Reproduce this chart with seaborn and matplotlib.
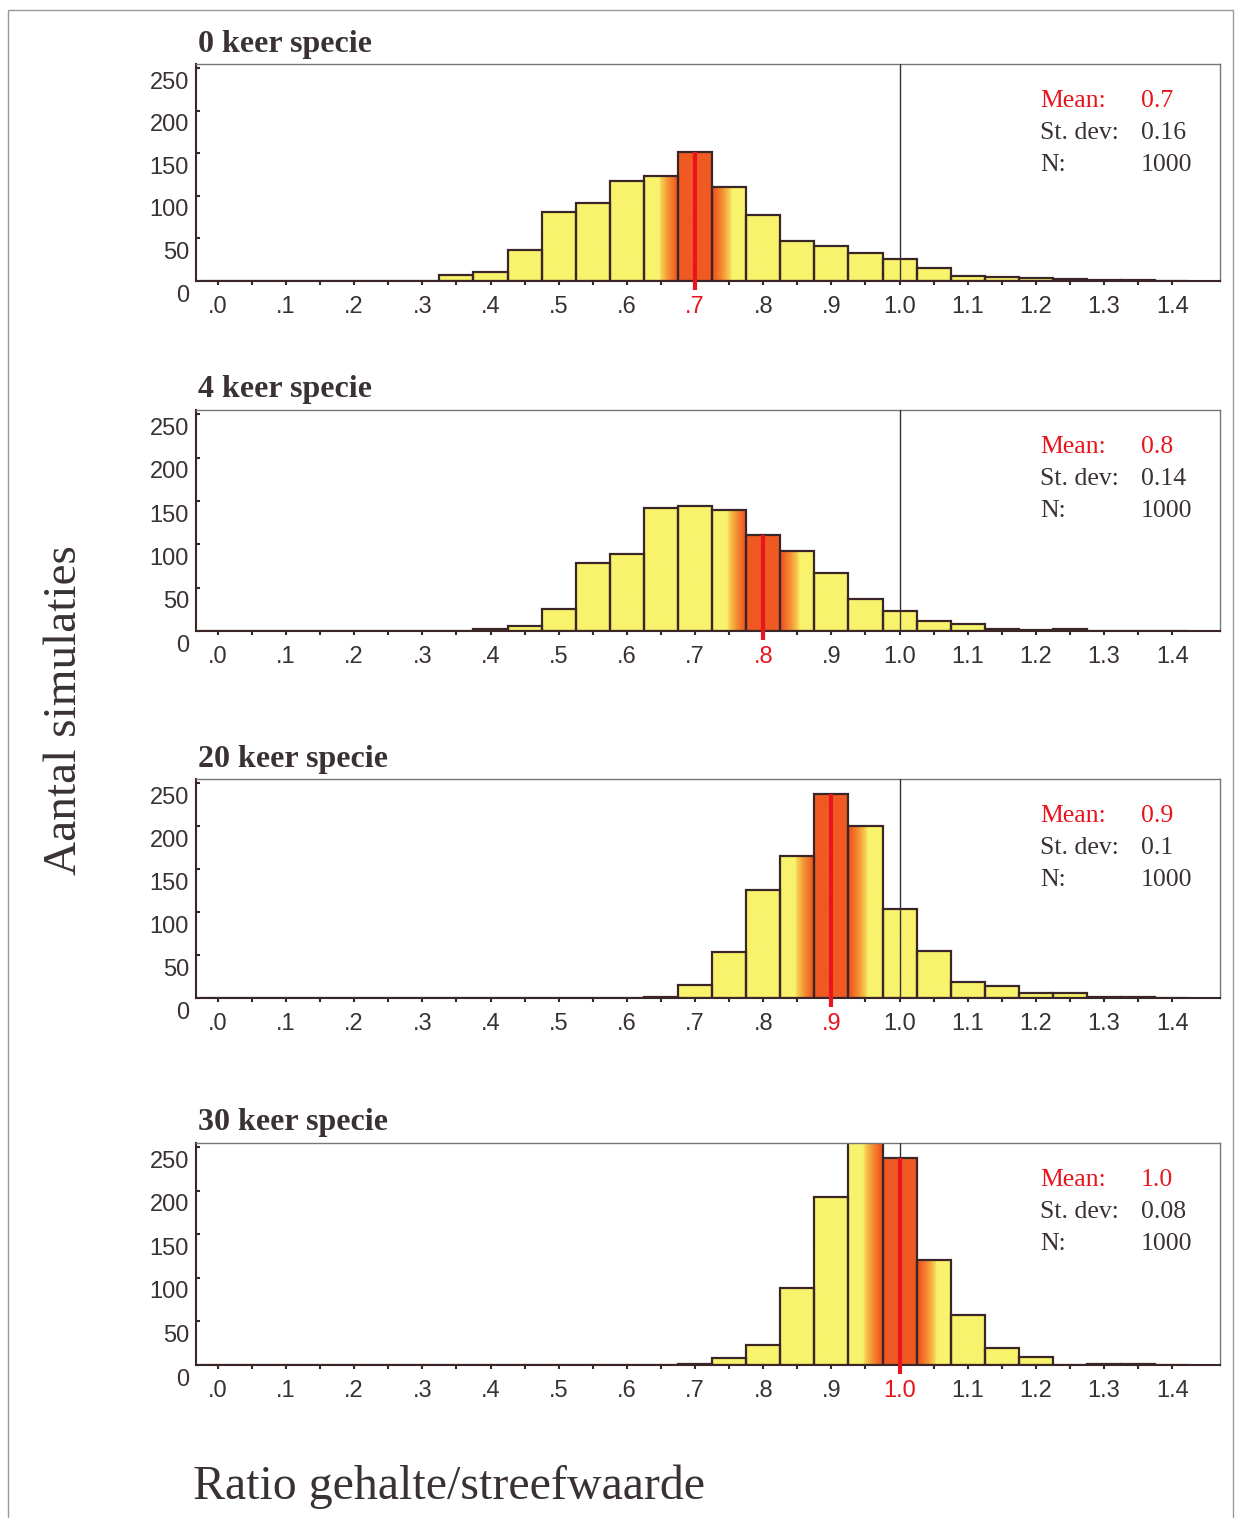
import numpy as np
import matplotlib
matplotlib.use("Agg")
import matplotlib.pyplot as plt
import matplotlib.transforms as mtransforms
from matplotlib.colors import LinearSegmentedColormap
from matplotlib.patches import Rectangle
import seaborn as sns

# bin centres (bin width 0.05)
bin_centers = [0.0, 0.05, 0.1, 0.15, 0.2, 0.25, 0.3, 0.35, 0.4, 0.45, 0.5, 0.55, 0.6, 0.65, 0.7,
               0.75, 0.8, 0.85, 0.9, 0.95, 1.0, 1.05, 1.1, 1.15, 1.2, 1.25, 1.3, 1.35, 1.4]

titles = ["0 keer specie", "4 keer specie", "20 keer specie", "30 keer specie"]
counts_0 = [0, 0, 0, 0, 0, 0, 0, 7, 10, 37, 81, 92, 117, 123, 152,
            111, 78, 47, 41, 33, 26, 15, 6, 5, 3, 2, 1, 1, 0]
counts_4 = [0, 0, 0, 0, 0, 0, 0, 0, 2, 6, 25, 78, 89, 142, 144,
            140, 111, 92, 67, 37, 23, 12, 8, 2, 1, 2, 0, 0, 0]
counts_20 = [0, 0, 0, 0, 0, 0, 0, 0, 0, 0, 0, 0, 0, 1, 15,
             53, 126, 165, 237, 200, 104, 55, 19, 14, 6, 6, 1, 1, 0]
counts_30 = [0, 0, 0, 0, 0, 0, 0, 0, 0, 0, 0, 0, 0, 0, 1,
             8, 23, 88, 193, 256, 238, 121, 58, 20, 9, 0, 1, 1, 0]
means = [0.7, 0.8, 0.9, 1.0]
mean_labels = ["0.7", "0.8", "0.9", "1.0"]
stdevs = ["0.16", "0.14", "0.1", "0.08"]
n_sims = ["1000", "1000", "1000", "1000"]

xtick_vals = [0.0, 0.1, 0.2, 0.3, 0.4, 0.5, 0.6, 0.7, 0.8, 0.9, 1.0, 1.1, 1.2, 1.3, 1.4]
xtick_labels = [".0", ".1", ".2", ".3", ".4", ".5", ".6", ".7", ".8", ".9",
                "1.0", "1.1", "1.2", "1.3", "1.4"]
ytick_vals = [0, 50, 100, 150, 200, 250]

YELLOW = "#F9F36C"
ORANGE = "#F05A22"
RED = "#E8141E"
EDGE = "#3A2626"
TXT = "#3A3232"

sns.set_style("white")
plt.rcParams['font.family'] = ['Liberation Sans Narrow', 'Liberation Sans', 'DejaVu Sans']

W, H = 1239, 1518
fig = plt.figure(figsize=(W / 100, H / 100), dpi=100)

def px_rect(left, top, right, bottom):
    return [left / W, 1 - bottom / H, (right - left) / W, (bottom - top) / H]

tops = [64, 410, 779, 1143]
bottoms = [281, 631, 998, 1365]
all_counts = [counts_0, counts_4, counts_20, counts_30]
bin_edges = [c - 0.025 for c in bin_centers] + [bin_centers[-1] + 0.025]
cmap = LinearSegmentedColormap.from_list("heat", [YELLOW, "#F6B040", ORANGE])

for k in range(4):
    ax = fig.add_axes(px_rect(196, tops[k], 1220, bottoms[k]))
    counts = all_counts[k]
    mean = means[k]
    sns.histplot(x=bin_centers, weights=counts, bins=bin_edges, ax=ax,
                 color=YELLOW, edgecolor=EDGE, linewidth=1.6, alpha=1)

    # gradient fill around the mean
    for p in ax.patches:
        h = p.get_height()
        if h <= 0:
            continue
        x0, w = p.get_x(), p.get_width()
        xs = np.linspace(x0, x0 + w, 80)
        d = np.abs(xs - mean)
        t = np.clip((0.053 - d) / 0.025, 0, 1) ** 0.6
        img = cmap(t)[None, :, :]
        ax.imshow(img, extent=(x0, x0 + w, 0, h), aspect='auto',
                  interpolation='bilinear', zorder=1)
        p.set_facecolor('none')
        p.set_zorder(2)

    ax.set_xlim(-0.032, 1.47)
    ax.set_ylim(0, 255)
    ax.set_xlabel("")
    ax.set_ylabel("")

    ax.axvline(1.0, color="#333333", lw=1, zorder=3)
    bar_h = counts[bin_centers.index(mean)]
    ax.plot([mean, mean], [-10, min(bar_h, 255)], color=RED, lw=3.0,
            clip_on=False, zorder=4, solid_capstyle='butt')

    ax.set_xticks(xtick_vals)
    ax.set_xticklabels(xtick_labels)
    ax.set_xticks(bin_centers, minor=True)
    ax.tick_params(axis='x', which='both', direction='out', length=3, width=1.5,
                   color=EDGE, pad=8, labelsize=17, labelcolor=TXT, bottom=True)
    for lab, v in zip(ax.get_xticklabels(), xtick_vals):
        if abs(v - mean) < 1e-9:
            lab.set_color(RED)

    ax.set_yticks(ytick_vals)
    ax.set_yticklabels([str(v) for v in ytick_vals])
    ax.tick_params(axis='y', direction='in', length=3, width=1.5, color=EDGE,
                   pad=5, labelsize=17, labelcolor=TXT, left=True)
    shift = mtransforms.ScaledTranslation(0, -0.12, fig.dpi_scale_trans)
    for lab in ax.get_yticklabels():
        lab.set_transform(lab.get_transform() + shift)

    for side in ['left', 'bottom']:
        ax.spines[side].set_color(EDGE)
        ax.spines[side].set_linewidth(1.5)
    for side in ['top', 'right']:
        ax.spines[side].set_color("#777777")
        ax.spines[side].set_linewidth(1.0)

    ax.text(0.002, 1.091, titles[k], transform=ax.transAxes, ha='left', va='center',
            family='Liberation Serif', fontweight='bold', fontsize=23, color=TXT)

    ah = bottoms[k] - tops[k]
    y0 = 1 - 37 / ah
    dy = 32 / ah
    lx, vx = (1040 - 196) / 1024, (1141 - 196) / 1024
    rows = [("Mean:", mean_labels[k], RED), ("St. dev:", stdevs[k], TXT), ("N:", n_sims[k], TXT)]
    for i, (lab, val, col) in enumerate(rows):
        ax.text(lx, y0 - i * dy, lab, transform=ax.transAxes, ha='left', va='center',
                family='Liberation Serif', fontsize=18.5, color=col)
        ax.text(vx, y0 - i * dy, val, transform=ax.transAxes, ha='left', va='center',
                family='Liberation Serif', fontsize=18.5, color=col)

fig.text(65 / W, 1 - 710 / H, "Aantal simulaties", rotation=90, ha='center', va='center',
         family='Liberation Serif', fontsize=34, color=TXT)
fig.text(193 / W, 1 - 1487 / H, "Ratio gehalte/streefwaarde", ha='left', va='center',
         family='Liberation Serif', fontsize=34.5, color=TXT)

fig.add_artist(Rectangle((8 / W, -0.01), (1233 - 8) / W, 1 - 10 / H + 0.01,
                         transform=fig.transFigure, fill=False, ec="#999999", lw=1))

fig.savefig("out.png", dpi=100)
